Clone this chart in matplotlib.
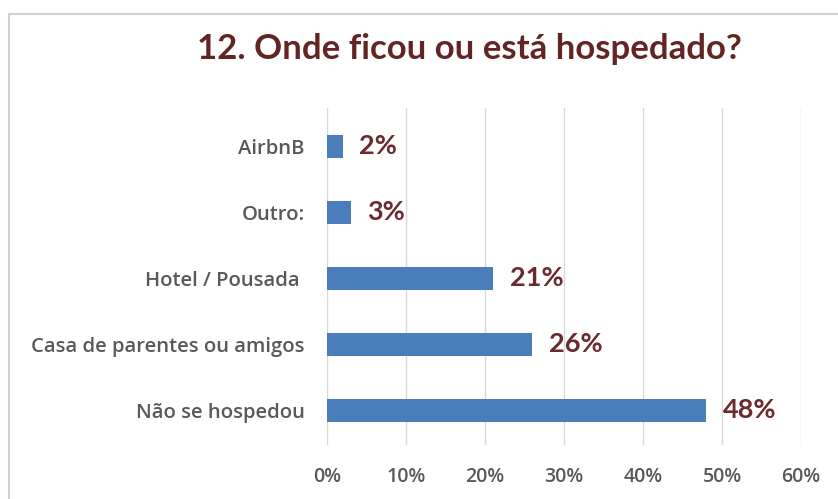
import matplotlib.pyplot as plt
from matplotlib.lines import Line2D

categorias = ["Não se hospedou", "Casa de parentes ou amigos", "Hotel / Pousada ", "Outro:", "AirbnB"]
valores = [48, 26, 21, 3, 2]
ticks = [0, 10, 20, 30, 40, 50, 60]
titulo = "12. Onde ficou ou está hospedado?"

plt.rcParams['font.family'] = ['Lato', 'DejaVu Sans']

fig = plt.figure(figsize=(8.38, 4.99), dpi=100)
fig.patch.set_facecolor("white")

# moldura cinza clara do gráfico (só lados esquerdo e de cima aparecem)
bx, by = 8.5 / 838, 1 - 13.5 / 499
fig.add_artist(Line2D([bx, bx], [0, by], transform=fig.transFigure,
                      color="#d0d0d0", linewidth=1.5))
fig.add_artist(Line2D([bx, 1], [by, by], transform=fig.transFigure,
                      color="#d0d0d0", linewidth=1.5))

ax = fig.add_axes([327 / 838, 1 - 445 / 499, (801 - 327) / 838, (445 - 108) / 499])

ypos = list(range(len(categorias)))
ax.barh(ypos, valores, height=0.35, color="#4a7ebb", zorder=3)

for y, v in zip(ypos, valores):
    ax.annotate(f"{v}%", xy=(v, y), xytext=(12, 0), textcoords="offset points",
                ha="left", va="center", fontsize=19.5, fontweight="bold",
                color="#6b2a2e")

ax.set_xlim(0, 60)
ax.set_ylim(-0.53, 4.58)
ax.set_xticks(ticks)
ax.set_xticklabels([f"{t}%" for t in ticks])
ax.set_yticks(ypos)
ax.set_yticklabels(categorias)
ax.grid(axis="x", color="#d9d9d9", linewidth=1, zorder=0)
for s in ax.spines.values():
    s.set_visible(False)
ax.tick_params(axis="both", length=0, colors="#595959")
ax.tick_params(axis="x", pad=16, labelsize=14)
ax.tick_params(axis="y", pad=16, labelsize=14.6)
for lbl in ax.get_xticklabels() + ax.get_yticklabels():
    lbl.set_family(["Open Sans", "DejaVu Sans"])
    lbl.set_fontweight("semibold")

fig.text(469 / 838, 1 - 49 / 499, titulo, ha="center", va="center",
         fontsize=25, fontweight="bold", color="#632523")

fig.savefig("out.png", dpi=100)
